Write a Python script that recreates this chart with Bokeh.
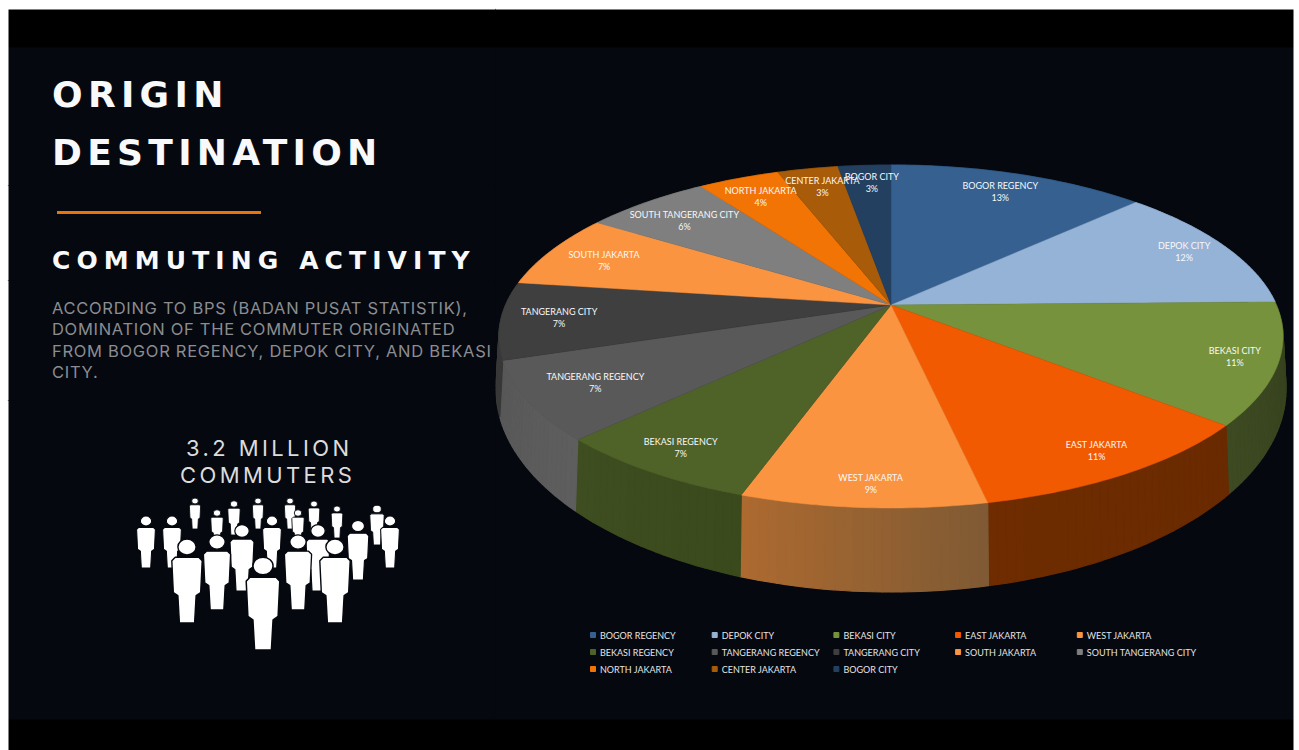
import math

from bokeh.core.properties import value
from bokeh.embed import file_html
from bokeh.layouts import column, row
from bokeh.models import Range1d
from bokeh.plotting import figure
from bokeh.resources import INLINE

# Commuter origin shares, in percent, clockwise from twelve o'clock
REGIONS = ["BOGOR REGENCY", "DEPOK CITY", "BEKASI CITY", "EAST JAKARTA", "WEST JAKARTA",
           "BEKASI REGENCY", "TANGERANG REGENCY", "TANGERANG CITY", "SOUTH JAKARTA",
           "SOUTH TANGERANG CITY", "NORTH JAKARTA", "CENTER JAKARTA", "BOGOR CITY"]
SHARES = [12.7, 12.0, 11.4, 10.6, 8.5, 7.3, 7.4, 7.3, 7.0, 6.2, 4.0, 3.0, 2.6]

FACE_COLORS = ["#35608f", "#95b3d7", "#76923c", "#f15a00", "#fb9441", "#4f6228", "#595959",
               "#3f3f3f", "#fb9441", "#7f7f7f", "#f27405", "#a85b08", "#244061"]
# Side wall shades; the angle runs right to left along the front of the disc
SIDE_START = ["#22406a", "#6f8aa8", "#343f1c", "#6a2a00", "#7f5a34", "#3a4a1c", "#5e5e5e",
              "#383838", "#a86830", "#606060", "#a05000", "#703c04", "#182b42"]
SIDE_END = ["#22406a", "#6f8aa8", "#3d4a22", "#6e2c00", "#ad6a30", "#3f4e20", "#585858",
            "#383838", "#a86830", "#606060", "#a05000", "#703c04", "#182b42"]
# Label nudges (x, y) away from the computed spot on each slice
LABEL_NUDGE = [(-2, 0), (8, -2), (18, 2), (11, 6), (3, 12), (-11, 5), (8, -3), (-1, 0),
               (4, 2), (5, 4), (2, 1), (4, 0), (4, -1)]

LEGEND_COLUMNS = 5
PAGE_W, PAGE_H = 1299, 750
LEFT_W = 495

# Projected disc: apex, horizontal and vertical reach, perspective strength
CX, APEX_Y = 891.0, 305.0
REACH_X, REACH_Y, TILT = 385.4, 165.7, 0.1837
# The rim of the top face and the rim of the base are both ellipses
TOP_Y0, TOP_RY, TOP_RX = 336.0, 172.0, 392.0
BASE_Y0, BASE_RY, BASE_RX = 388.0, 204.0, 395.0

INK = "#05080f"
BLACK = "#000000"
LABEL_FONT = value("Lato")

# Painted behind the figures so that the half-pixel seams between them stay invisible
BANDS = f"linear-gradient(to bottom, #fff 9px, {BLACK} 9px, {BLACK} 47px, {INK} 47px, {INK} 720px, {BLACK} 720px)"
MARGIN = "linear-gradient(to right, #fff 8px, transparent 8px)"
SIDES = "linear-gradient(to right, transparent 1294px, #fff 1294px)"


def rim(theta, r=1.0):
    sx, sy = r * math.sin(theta), r * math.cos(theta)
    den = 1 + TILT * sy
    return CX + REACH_X * sx / den, APEX_Y - REACH_Y * sy / den


def base_of(x, y):
    return CX + (x - CX) * BASE_RX / TOP_RX, BASE_Y0 + BASE_RY * (y - TOP_Y0) / TOP_RY


def mix(a, b, t):
    ca = [int(a[i:i + 2], 16) for i in (1, 3, 5)]
    cb = [int(b[i:i + 2], 16) for i in (1, 3, 5)]
    return "#%02x%02x%02x" % tuple(round(u + (v - u) * t) for u, v in zip(ca, cb))


def canvas(x0, x1, y0, y1):
    # Ranges carry a half-pixel shift that cancels the one the canvas applies when drawing
    p = figure(width=x1 - x0, height=y1 - y0, x_range=Range1d(x0 + 0.5, x1 + 0.5),
               y_range=Range1d(y1 + 0.5, y0 + 0.5),
               x_axis_type=None, y_axis_type=None, toolbar_location=None, output_backend="svg",
               min_border=0, outline_line_color=None, background_fill_alpha=0, border_fill_alpha=0)
    p.grid.visible = False
    # Dark slide, letterbox bars and the page margin around them
    p.quad(left=[8], right=[1294], top=[47], bottom=[720], color=INK)
    p.quad(left=[8], right=[1294], top=[9], bottom=[47], color=BLACK)
    p.quad(left=[8], right=[1294], top=[720], bottom=[PAGE_H + 2], color=BLACK)
    p.quad(left=[-2], right=[8], top=[-2], bottom=[PAGE_H + 2], color="#ffffff")
    p.quad(left=[1294], right=[PAGE_W + 2], top=[-2], bottom=[PAGE_H + 2], color="#ffffff")
    p.quad(left=[-2], right=[PAGE_W + 2], top=[-2], bottom=[9], color="#ffffff")
    return p


def person(head_x, head_y, h):
    """Outline of a standing figure, head centre at (head_x, head_y), h tall to the feet."""
    sh, hip, leg, ankle = 0.20 * h, 0.18 * h, 0.12 * h, 0.10 * h
    top = head_y + 0.135 * h
    foot = head_y + h
    corner = 0.045 * h
    xs = [-sh + corner, sh - corner, sh, hip, leg, ankle, -ankle, -leg, -hip, -sh]
    ys = [top, top, top + corner, head_y + 0.60 * h, head_y + 0.64 * h, foot, foot,
          head_y + 0.64 * h, head_y + 0.60 * h, top + corner]
    return [head_x + v for v in xs], ys


# --- left column -----------------------------------------------------------
title = canvas(0, LEFT_W, 0, 185)
title.styles = {"letter-spacing": "5.3px"}
for line, mid in [("ORIGIN", 94), ("DESTINATION", 152)]:
    title.text(x=[52], y=[mid], text=[line], text_font=value("DejaVu Sans"), text_font_style="bold",
               text_font_size="36px", text_color="#f8f9fa", text_baseline="middle")

sub = canvas(0, LEFT_W, 185, 280)
sub.styles = {"letter-spacing": "6.1px"}
sub.line(x=[57, 261], y=[212.5, 212.5], line_color="#e8740c", line_width=3)
sub.text(x=[52], y=[260.5], text=["COMMUTING ACTIVITY"], text_font=value("DejaVu Sans"), text_font_style="bold",
         text_font_size="25px", text_color="#f8f9fa", text_baseline="middle")

body = canvas(0, LEFT_W, 280, 400)
body.styles = {"letter-spacing": "0.7px"}
BODY_LINES = ["ACCORDING TO BPS (BADAN PUSAT STATISTIK),", "DOMINATION OF THE COMMUTER ORIGINATED",
              "FROM BOGOR REGENCY, DEPOK CITY, AND BEKASI", "CITY."]
for i, line in enumerate(BODY_LINES):
    body.text(x=[52], y=[307.5 + i * 21.6], text=[line], text_font=value("Inter"), text_font_size="16.5px",
              text_color="#8b8d91", text_baseline="middle")

crowd = canvas(0, LEFT_W, 400, PAGE_H)
crowd.styles = {"letter-spacing": "3.4px"}
for line, x, mid in [("3.2 MILLION", 186, 447.5), ("COMMUTERS", 180, 475)]:
    crowd.text(x=[x], y=[mid], text=[line], text_font=value("Inter"), text_font_size="22px",
               text_color="#dcdcdc", text_baseline="middle")

# Head centre x, head centre y and height of each figure, back row first
PEOPLE_X = [195, 234, 258, 290, 314, 377, 337, 390, 146, 172, 217, 272, 298, 358, 242, 318, 217, 298, 187, 335, 263]
PEOPLE_Y = [501, 504, 501, 501, 504, 509, 509, 521, 521, 521, 513, 521, 513, 526, 531, 531, 542, 542, 547, 547, 566]
PEOPLE_H = [28, 31, 28, 28, 29, 36, 29, 47, 47, 47, 31, 47, 31, 54, 60, 60, 68, 68, 76, 76, 84]
for px, py, ph in zip(PEOPLE_X, PEOPLE_Y, PEOPLE_H):
    xs, ys = person(px, py, ph)
    stroke = 0.5 + ph * 0.012
    crowd.patch(xs, ys, fill_color="#ffffff", line_color=INK, line_width=stroke)
    crowd.ellipse(x=[px], y=[py], width=[0.24 * ph], height=[0.21 * ph], fill_color="#ffffff",
                  line_color=INK, line_width=stroke)

# --- pie ---------------------------------------------------------------------
pie = canvas(LEFT_W, PAGE_W, 0, PAGE_H)

edges = [0.0]
for share in SHARES:
    edges.append(edges[-1] + share)
total = edges[-1]
angles = [e / total * 2 * math.pi for e in edges]

# Side wall, as thin strips so that the shading can run along each slice
strip_xs, strip_ys, strip_colors = [], [], []
for i in range(len(SHARES)):
    a0, a1 = angles[i], angles[i + 1]
    n = max(4, int((a1 - a0) / 0.02))
    for j in range(n):
        t0, t1 = a0 + (a1 - a0) * j / n, a0 + (a1 - a0) * (j + 1) / n
        x0, y0 = rim(t0)
        x1, y1 = rim(t1)
        bx0, by0 = base_of(x0, y0)
        bx1, by1 = base_of(x1, y1)
        strip_xs.append([x0, x1, bx1, bx0])
        strip_ys.append([y0, y1, by1, by0])
        strip_colors.append(mix(SIDE_START[i], SIDE_END[i], (j + 0.5) / n))
pie.patches(strip_xs, strip_ys, fill_color=strip_colors, line_color=strip_colors, line_width=1.2)

# Top face
face_xs, face_ys = [], []
for i in range(len(SHARES)):
    a0, a1 = angles[i], angles[i + 1]
    n = max(8, int((a1 - a0) / 0.015))
    pts = [rim(a0 + (a1 - a0) * j / n) for j in range(n + 1)]
    face_xs.append([CX] + [q[0] for q in pts])
    face_ys.append([APEX_Y] + [q[1] for q in pts])
pie.patches(face_xs, face_ys, fill_color=FACE_COLORS, line_color=FACE_COLORS, line_width=0.5)

# Data labels: name over rounded percentage
for i, (name, share) in enumerate(zip(REGIONS, SHARES)):
    mid = (angles[i] + angles[i + 1]) / 2
    lx, ly = rim(mid, 0.85)
    lx += LABEL_NUDGE[i][0]
    ly += LABEL_NUDGE[i][1]
    pie.text(x=[lx], y=[ly - 6], text=[name], text_font=LABEL_FONT, text_font_size="9px",
             text_color="#f8f8f8", text_align="center", text_baseline="middle")
    pie.text(x=[lx], y=[ly + 6], text=["%d%%" % math.floor(share + 0.5)], text_font=LABEL_FONT,
             text_font_size="9px", text_color="#f8f8f8", text_align="center", text_baseline="middle")

# Legend grid
for i, name in enumerate(REGIONS):
    col, rw = i % LEGEND_COLUMNS, i // LEGEND_COLUMNS
    lx = 593 + col * 121.7
    ly = 635 + rw * 17
    pie.rect(x=[lx], y=[ly], width=[5], height=[5], color=FACE_COLORS[i])
    pie.text(x=[lx + 7], y=[ly], text=[name], text_font=LABEL_FONT, text_font_size="9px",
             text_color="#e4e4e4", text_baseline="middle")

left = column(title, sub, body, crowd, spacing=0, styles={"background": f"{MARGIN}, {BANDS}"})
page = row(left, pie, spacing=0, styles={"background": f"{SIDES}, {BANDS}"})
open("out.html", "w").write(file_html(page, INLINE))
